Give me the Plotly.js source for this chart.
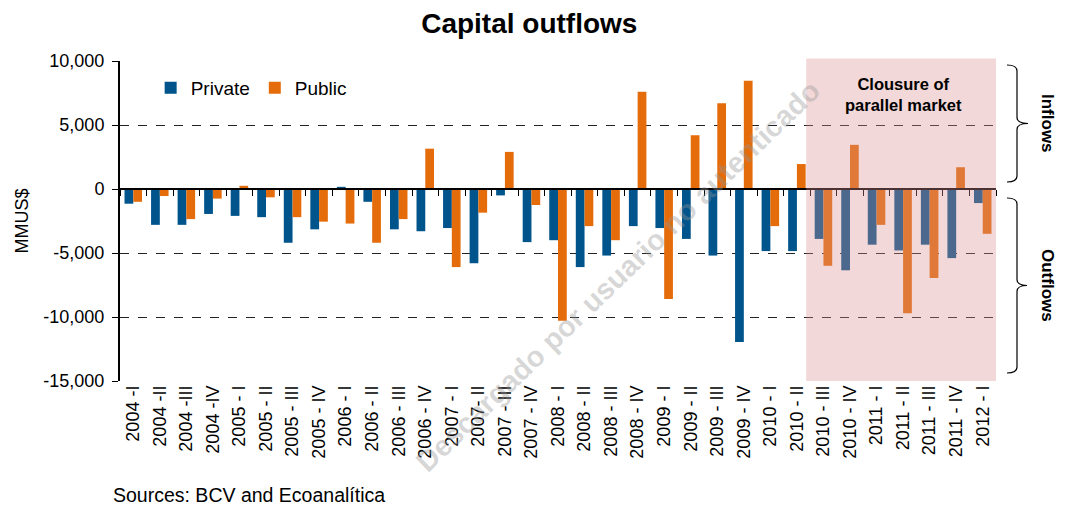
<!DOCTYPE html>
<html>
<head>
<meta charset="utf-8">
<script src="https://cdn.plot.ly/plotly-3.0.1.min.js"></script>
<style>html,body{margin:0;padding:0;background:#fff;}#chart{width:1065px;height:506px;}</style>
</head>
<body>
<div id="chart"></div>
<script>
// ---- data ----
const categories = ["2004 -I","2004 -II","2004 -III","2004 -IV","2005 - I","2005 - II","2005 - III","2005 - IV",
  "2006 - I","2006 - II","2006 - III","2006 - IV","2007 - I","2007- II","2007 - III","2007 - IV",
  "2008 - I","2008 - II","2008 - III","2008 - IV","2009 - I","2009 - II","2009 - III","2009 - IV",
  "2010 - I","2010 - II","2010 - III","2010 - IV","2011 - I","2011 - II","2011 - III","2011 - IV","2012 - I"];
const privateFlows = [-1150,-2800,-2800,-1950,-2100,-2200,-4200,-3150,
  170,-1000,-3150,-3300,-3050,-5800,-500,-4150,
  -4000,-6100,-5200,-2900,-3050,-3900,-5200,-11950,
  -4850,-4850,-3900,-6350,-4350,-4800,-4350,-5400,-1100];
const publicFlows = [-1000,-550,-2350,-750,250,-650,-2200,-2550,
  -2700,-4200,-2350,3150,-6100,-1850,2900,-1250,
  -10300,-2900,-4000,7600,-8600,4200,6700,8450,
  -2900,1950,-6000,3450,-2800,-9700,-6950,1700,-3500];
const yTickVals = [-15000,-10000,-5000,0,5000,10000];
const yTickText = ["-15,000","-10,000","-5,000","0","5,000","10,000"];
const shadedStart = "2010 - III";   // closure of parallel market period starts here

// ---- layout helpers (pixel geometry of plot area) ----
const W = 1065, H = 506, L = 120, R = 996, T = 61, B = 381;
const px = x => (x - L) / (R - L);
const py = y => (B - y) / (B - T);
function brace(a, b, c, t, u, r) {
  const m = (t + u) / 2;
  const P = (x, y) => px(x).toFixed(5) + ',' + py(y).toFixed(5);
  return 'M' + P(a, t) + ' Q' + P(b, t) + ' ' + P(b, t + r) + ' L' + P(b, m - r) +
    ' Q' + P(b, m) + ' ' + P(c, m) + ' Q' + P(b, m) + ' ' + P(b, m + r) +
    ' L' + P(b, u - r) + ' Q' + P(b, u) + ' ' + P(a, u);
}

const FONT = 'Liberation Sans, Arial, sans-serif';
const shadeIdx = categories.indexOf(shadedStart);

const traces = [
  {type: 'bar', name: 'Private', x: categories, y: privateFlows,
   marker: {color: '#00548C'}, hoverinfo: 'x+y'},
  {type: 'bar', name: 'Public', x: categories, y: publicFlows,
   marker: {color: '#E46C0A'}, hoverinfo: 'x+y'},
  {type: 'scatter', x: categories, y: categories.map(() => null), xaxis: 'x2', yaxis: 'y',
   showlegend: false, hoverinfo: 'skip', mode: 'markers'}
];

const layout = {
  width: W, height: H,
  margin: {l: L, r: W - R, t: T, b: H - B, pad: 0},
  paper_bgcolor: '#ffffff', plot_bgcolor: '#ffffff',
  font: {family: FONT, color: '#000', size: 18},
  title: {text: '<b>Capital outflows</b>', x: 0.497, xanchor: 'center', y: 0.955, yanchor: 'middle',
          font: {family: FONT, size: 28, color: '#000'}},
  barmode: 'group', bargap: 0.34, bargroupgap: 0,
  showlegend: true,
  legend: {orientation: 'h', x: 0.035, y: 0.975, xanchor: 'left', yanchor: 'top',
           bgcolor: 'rgba(0,0,0,0)', font: {family: FONT, size: 19, color: '#000'},
           itemwidth: 30, tracegroupgap: 0},
  xaxis: {type: 'category', range: [-0.5, categories.length - 0.5],
          showline: false, ticks: '', showgrid: false, zeroline: false,
          tickangle: -90, tickfont: {family: FONT, size: 18, color: '#000'}},
  xaxis2: {type: 'category', overlaying: 'x', anchor: 'free', position: 0.6,
           range: [-0.5, categories.length - 0.5], showline: true, linecolor: '#000', linewidth: 2,
           ticks: 'outside', ticklen: 6, tickwidth: 1, tickcolor: '#000', tickson: 'boundaries',
           showticklabels: false, showgrid: false, zeroline: false},
  yaxis: {range: [-15000, 10000], tickvals: yTickVals, ticktext: yTickText,
          showline: true, linecolor: '#000', linewidth: 2, ticks: 'outside', ticklen: 6,
          tickcolor: '#000', showgrid: true, gridcolor: '#222', griddash: 'dash', gridwidth: 1,
          zeroline: true, zerolinecolor: '#000', zerolinewidth: 2, ticklabelstandoff: 4,
          tickfont: {family: FONT, size: 18, color: '#000'},
          title: {text: 'MMUS$', standoff: 10, font: {family: FONT, size: 18, color: '#000'}}},
  shapes: [
    {type: 'rect', layer: 'above', xref: 'x', yref: 'paper', x0: shadeIdx - 0.65, x1: categories.length - 0.5,
     y0: 0, y1: 1.008, fillcolor: 'rgba(218,143,143,0.35)', line: {width: 0}},
    {type: 'path', xref: 'paper', yref: 'paper', path: brace(1007, 1017, 1028, 65, 182, 6),
     line: {color: '#000', width: 1.2}},
    {type: 'path', xref: 'paper', yref: 'paper', path: brace(1007, 1017, 1027, 198, 373, 6),
     line: {color: '#000', width: 1.2}}
  ],
  annotations: [
    {text: '<b>Clousure of<br>parallel market</b>', xref: 'paper', yref: 'paper', x: px(903), y: py(94),
     xanchor: 'center', yanchor: 'middle', showarrow: false, align: 'center',
     font: {family: FONT, size: 16.5, color: '#000'}},
    {text: '<b>Inflows</b>', xref: 'paper', yref: 'paper', x: px(1048), y: py(123),
     textangle: 90, showarrow: false, xanchor: 'center', yanchor: 'middle',
     font: {family: FONT, size: 17, color: '#000'}},
    {text: '<b>Outflows</b>', xref: 'paper', yref: 'paper', x: px(1048), y: py(285),
     textangle: 90, showarrow: false, xanchor: 'center', yanchor: 'middle',
     font: {family: FONT, size: 17, color: '#000'}},
    {text: 'Sources: BCV and Ecoanalítica', xref: 'paper', yref: 'paper', x: px(111), y: py(495),
     xanchor: 'left', yanchor: 'middle', showarrow: false,
     font: {family: FONT, size: 19.5, color: '#000'}},
    {text: '<b>Descargado por usuario no autenticado</b>', xref: 'paper', yref: 'paper',
     x: px(618), y: py(276), xanchor: 'center', yanchor: 'middle', textangle: -44, showarrow: false,
     font: {family: FONT, size: 29, color: 'rgba(150,150,150,0.38)'}}
  ]
};

Plotly.newPlot('chart', traces, layout, {staticPlot: true, displayModeBar: false});
</script>
</body>
</html>
